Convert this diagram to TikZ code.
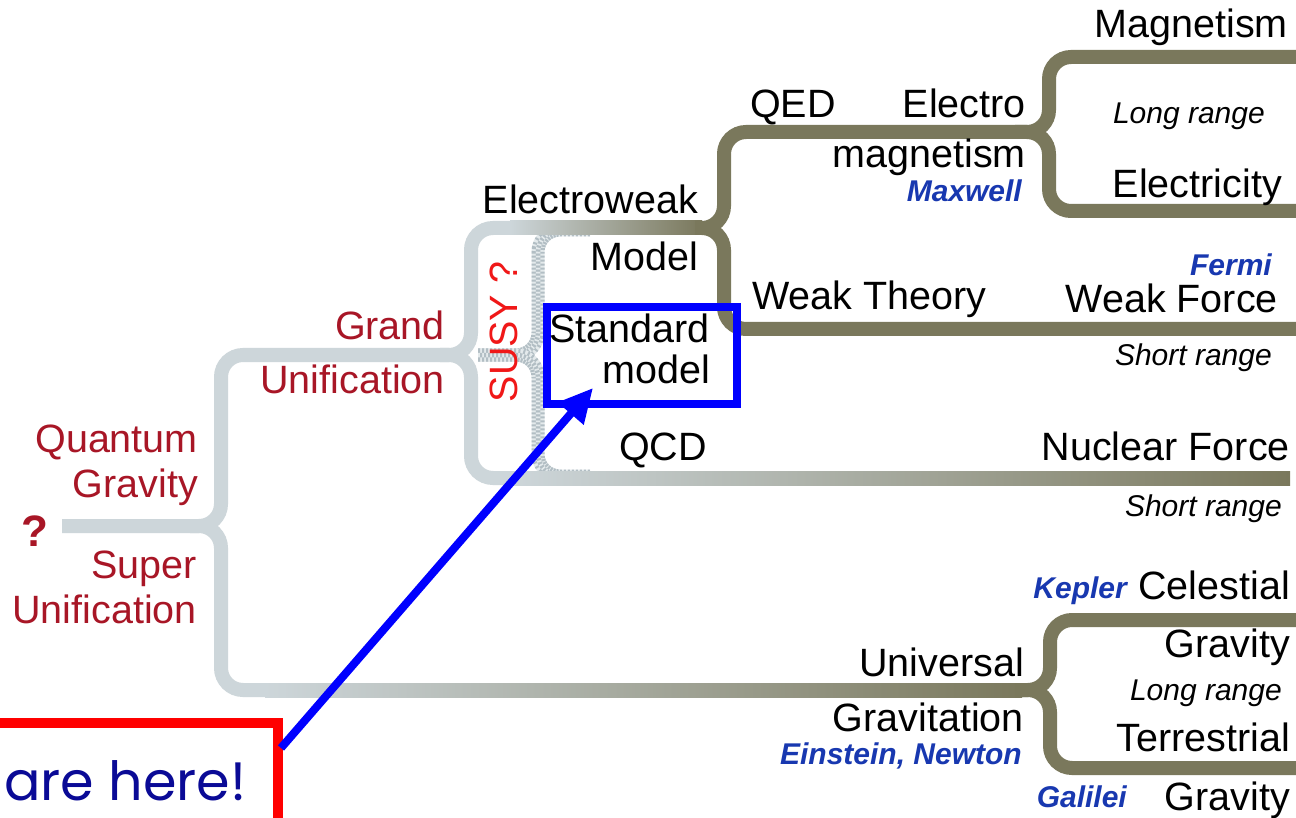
\documentclass[tikz,border=0pt]{standalone}
\usepackage{fontspec}
\setmainfont{Liberation Sans}
\newfontfamily\handfont{Poppins}
\usetikzlibrary{arrows.meta}

\definecolor{branchlight}{RGB}{205,214,218}
\definecolor{branchdark}{RGB}{122,120,92}
\definecolor{susypale}{RGB}{228,234,236}
\definecolor{susyspeck}{RGB}{178,190,196}
\definecolor{labelred}{RGB}{168,22,38}
\definecolor{namesblue}{RGB}{24,56,176}
\definecolor{susyred}{RGB}{240,24,24}
\definecolor{herenavy}{RGB}{10,10,150}

\tikzset{
  branch/.style={line width=14pt, rounded corners=22pt},
  lightbranch/.style={branch, draw=branchlight},
  darkbranch/.style={branch, draw=branchdark},
  susyband/.style={branch, line width=13pt, draw=susypale},
  susydots/.style={branch, line width=#1, draw=susyspeck, dash pattern=on 2pt off 2pt},
  susygaps/.style={branch, line width=#1, draw=susypale, dash pattern=on 2pt off 2pt},
  lbl/.style={inner sep=0pt, anchor=base east, font=\fontsize{39.5}{44}\selectfont},
  redlbl/.style={lbl, text=labelred},
  rng/.style={inner sep=0pt, anchor=base east, font=\fontsize{30}{34}\selectfont\itshape},
  who/.style={inner sep=0pt, anchor=base east, text=namesblue,
    font=\fontsize{30}{34}\selectfont\bfseries\itshape},
}

\begin{document}
\begin{tikzpicture}[x=1pt,y=-1pt]
\useasboundingbox[fill=white] (0,0) rectangle (1296,818);

% fork points of the tree
\coordinate (root)  at (62,526);
\coordinate (f1)    at (221,526);
\coordinate (f2)    at (471,355);
\coordinate (f3)    at (724,228);
\coordinate (f4)    at (1049,132);
\coordinate (f5)    at (1050,690);

% speckled SUSY brace (checkered dots in three bands)
\foreach \yend in {230,476}{
  \draw[susyband]   (478,355) -- (538,355) -- (538,\yend) -- (590,\yend);
  \draw[susydots=13pt] (478,355) -- (538,355) -- (538,\yend) -- (590,\yend);
  \draw[susygaps=4.5pt] (478,355) -- (538,355) -- (538,\yend) -- (590,\yend);
  \draw[susydots=4.5pt, dash phase=2pt] (478,355) -- (538,355) -- (538,\yend) -- (590,\yend);
}

% light (unified) part of the tree
\draw[lightbranch] (root) -- (f1) -- (221,355) -- (f2) -- (471,228) -- (515,228);
\draw[lightbranch] (190,526) -- (f1) -- (221,690) -- (270,690);
\draw[lightbranch] (440,355) -- (f2) -- (471,478) -- (515,478);

% graded stretches
\shade[left color=branchlight, right color=branchdark] (510,221) rectangle (702,235);
\shade[left color=branchlight, right color=branchdark] (510,471) rectangle (1290,485);
\shade[left color=branchlight, right color=branchdark] (265,683) rectangle (1022,697);

% dark (separated forces) part of the tree
\draw[darkbranch] (695,228) -- (f3) -- (724,132) -- (f4) -- (1049,57) -- (1296,57);
\draw[darkbranch] (695,228) -- (f3) -- (724,329) -- (1296,329);
\draw[darkbranch] (1015,132) -- (f4) -- (1049,211) -- (1296,211);
\draw[darkbranch] (1015,690) -- (f5) -- (1050,620) -- (1296,620);
\draw[darkbranch] (1015,690) -- (f5) -- (1050,768) -- (1296,768);

% unification labels
\node[inner sep=0pt, anchor=base, text=labelred,
      font=\fontsize{44}{48}\selectfont\bfseries] (qmark) at (35,546) {?};
\node[redlbl] (qg1) at (198,452) {Quantum};
\node[redlbl] (qg2) at (198,497) {Gravity};
\node[redlbl] (su1) at (197,578) {Super};
\node[redlbl] (su2) at (197,623) {Unification};
\node[redlbl] (gu1) at (445,339) {Grand};
\node[redlbl] (gu2) at (445,393) {Unification};
\node[inner sep=0pt, rotate=90, text=susyred, font=\fontsize{39.5}{44}\selectfont]
  (susy) at (504,332) {SUSY ?};

% theories
\node[lbl] (ew)   at (698,214) {Electroweak};
\node[lbl] (mdl)  at (698,271) {Model};
\node[lbl] (qcd)  at (707,460) {QCD};
\node[lbl, anchor=base west] (qed) at (750,118) {QED};
\node[lbl] (em1)  at (1026,118) {Electro};
\node[lbl] (em2)  at (1026,168) {magnetism};
\node[who] (maxw) at (1022,202) {Maxwell};
\node[lbl, anchor=base west] (wth) at (752,310) {Weak Theory};
\node[lbl] (ug1)  at (1024,676) {Universal};
\node[lbl] (ug2)  at (1024,731) {Gravitation};
\node[who] (einw) at (1022,764) {Einstein, Newton};

% forces
\node[lbl] (mag)  at (1288,38)  {Magnetism};
\node[rng] (lr1)  at (1265,124) {Long range};
\node[lbl] (elc)  at (1282,198) {Electricity};
\node[who] (ferm) at (1272,276) {Fermi};
\node[lbl] (wkf)  at (1278,313) {Weak Force};
\node[rng] (sr1)  at (1272,366) {Short range};
\node[lbl] (nuc)  at (1290,460) {Nuclear Force};
\node[rng] (sr2)  at (1282,516) {Short range};
\node[who] (kep)  at (1127,598) {Kepler};
\node[lbl] (cel1) at (1290,599) {Celestial};
\node[lbl] (cel2) at (1290,657) {Gravity};
\node[rng] (lr2)  at (1282,700) {Long range};
\node[lbl] (ter1) at (1290,751) {Terrestrial};
\node[who] (gal)  at (1127,807) {Galilei};
\node[lbl] (ter2) at (1290,810) {Gravity};

% highlighted standard model
\node[draw=blue, line width=8pt, minimum width=190pt, minimum height=97pt, inner sep=0pt]
  (smbox) at (642,355.5) {};
\node[lbl] (sm1) at (710,343) {Standard};
\node[lbl] (sm2) at (710,383) {model};

% "are here" callout
\node[draw=red, line width=10pt, minimum width=300pt, minimum height=140pt, inner sep=0pt]
  (herebox) at (128,793) {};
\node[inner sep=0pt, anchor=base west, text=herenavy,
      font=\handfont\fontsize{54}{58}\selectfont] (here) at (4,800) {are here!};
\coordinate (astart) at (281,748);
\coordinate (atip)   at (593,388);
\draw[blue, line width=8pt, -{Triangle[length=34pt, width=32pt]}] (astart) -- (atip);
\end{tikzpicture}
\end{document}
